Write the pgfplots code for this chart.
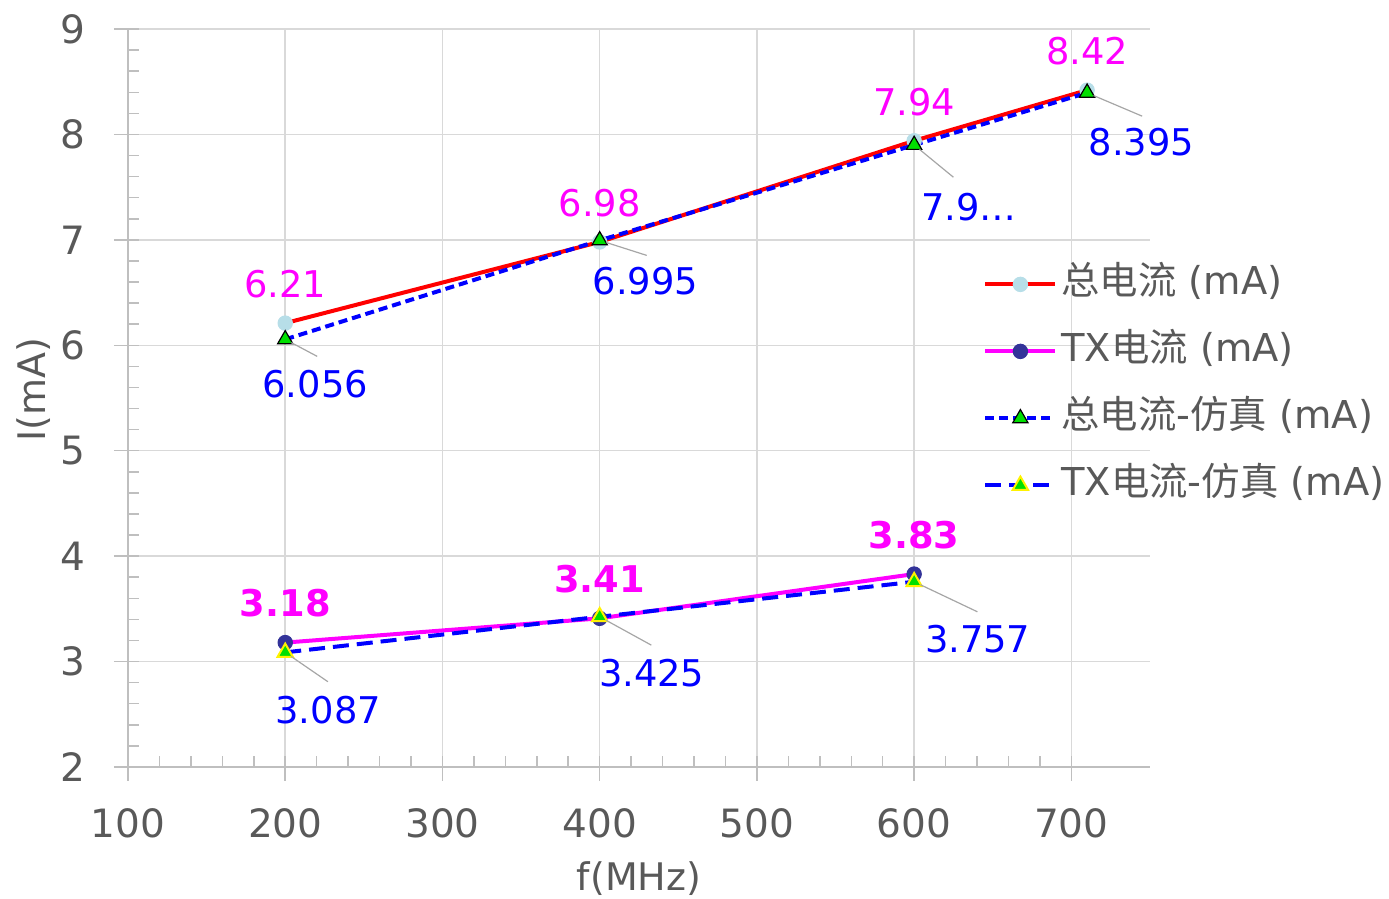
\documentclass[border=0pt]{standalone}
\usepackage{fontspec}
\setmainfont{DejaVu Sans}
\newfontfamily\cjk{Noto Sans CJK SC}
\usepackage{pgfplots}
\usepackage{pgfplotstable}
\pgfplotsset{compat=1.18}
\definecolor{txtgray}{HTML}{595959}
\definecolor{axgray}{HTML}{BFBFBF}
\definecolor{gridgray}{HTML}{D9D9D9}
\definecolor{lblue}{HTML}{B7DEE8}
\definecolor{navy}{HTML}{333399}
\definecolor{mag}{HTML}{FF00FF}
\definecolor{grn}{HTML}{00E000}
\definecolor{leadgray}{HTML}{A6A6A6}

% x y label, leader angle/length, label offset (pt)
\pgfplotstableread{
x y lab ang len lx ly
200 6.056 6.056 -28.0 14.6 15.0 22.5
400 6.995 6.995 -17.7 21.2 22.8 20.5
600 7.9 7.9… -39.4 21.9 27.3 31.3
710 8.395 8.395 -23.0 26.4 27.2 24.8
}\simtotal

\pgfplotstableread{
x y lab ang len lx ly
200 3.087 3.087 -34.5 22.4 21.5 29.0
400 3.425 3.425 -28.8 26.0 26.0 28.1
600 3.757 3.757 -25.4 31.5 31.8 28.9
}\simtx

\begin{document}
\begin{tikzpicture}
\begin{axis}[
  at={(0,0)}, anchor=south west,
  width=511pt, height=369pt, scale only axis,
  xmin=100, xmax=750, ymin=2, ymax=9,
  xtick={100,200,...,700}, ytick={2,3,...,9},
  minor x tick num=4, minor y tick num=4,
  axis x line*=bottom, axis y line*=left,
  axis line style={draw=axgray, line width=0.75pt, -},
  tick style={draw=axgray, line width=0.75pt},
  tick align=inside,
  major tick length=5.5pt, minor tick length=5.5pt,
  extra x ticks={100,200,...,700}, extra y ticks={2,3,...,9},
  extra x tick labels={}, extra y tick labels={},
  extra tick style={tick align=outside, major tick length=7pt, grid=none},
  grid=major, major grid style={draw=gridgray, line width=0.75pt},
  ticklabel style={font=\fontsize{19.5}{23}\selectfont, text=txtgray},
  /pgf/number format/assume math mode=true,
  xticklabel style={anchor=north, inner sep=0pt, yshift=-20.5pt},
  yticklabel style={anchor=east, inner sep=0pt, xshift=-21pt},
  xlabel={f(MHz)}, ylabel={I(mA)},
  xlabel style={at={(axis description cs:0.5,-0.15176)}, anchor=center, font=\fontsize{19}{23}\selectfont, text=txtgray},
  ylabel style={at={(axis description cs:-0.09247,0.511)}, anchor=center, font=\fontsize{19}{23}\selectfont, text=txtgray},
  legend cell align=left,
  legend style={at={(axis description cs:0.8366,0.6789)}, anchor=north west, draw=none, fill=none, inner sep=0pt,
    font=\fontsize{19.2}{22}\selectfont, text=txtgray, row sep=15.5pt, column sep=2pt,
    nodes={inner sep=0pt, text height=14pt, text depth=4pt}},
  legend image code/.code={\draw[mark repeat=2, mark phase=2, #1] plot coordinates {(0pt,0pt) (17.5pt,0pt) (35pt,0pt)};},
]
\addplot[red, line width=2pt, mark=*, mark size=3.6pt,
  mark options={fill=lblue, draw=lblue, line width=0.5pt, solid},
  nodes near coords, point meta=explicit symbolic,
  every node near coord/.style={anchor=center, yshift=19.5pt, font=\fontsize{18.4}{22}\selectfont, text=mag}]
  coordinates {(200,6.21)[6.21] (400,6.98)[6.98] (600,7.94)[7.94] (710,8.42)[8.42]};
\addlegendentry{{\cjk 总电流} (mA)}

\addplot[mag, line width=2pt, mark=*, mark size=3.6pt,
  mark options={fill=navy, draw=navy, line width=0.5pt, solid},
  nodes near coords, point meta=explicit symbolic,
  every node near coord/.style={anchor=center, yshift=19.5pt, font=\fontsize{18.4}{22}\selectfont\bfseries, text=mag}]
  coordinates {(200,3.18)[3.18] (400,3.41)[3.41] (600,3.83)[3.83]};
\addlegendentry{TX{\cjk 电流} (mA)}

\addplot[blue, line width=2pt, dash pattern=on 4.5pt off 2.5pt, mark=triangle*, mark size=4.4pt,
  mark options={fill=grn, draw=black, line width=0.6pt, solid},
  nodes near coords, point meta=explicit symbolic,
  visualization depends on={\thisrow{ang}\as\ang},
  visualization depends on={\thisrow{len}\as\len},
  visualization depends on={\thisrow{lx}\as\lx},
  visualization depends on={\thisrow{ly}\as\ly},
  every node near coord/.style={anchor=center, xshift=\lx pt, yshift=-\ly pt, font=\fontsize{18.4}{22}\selectfont, text=blue,
    append after command={(\tikzlastnode.center) ++(-\lx pt,\ly pt) ++(\ang:3.5pt) edge[draw=leadgray, line width=0.6pt, solid] +(\ang:\len pt)}}]
  table[x=x, y=y, meta=lab] {\simtotal};
\addlegendentry{{\cjk 总电流}-{\cjk 仿真} (mA)}

\addplot[blue, line width=2pt, dash pattern=on 8pt off 4pt, mark=triangle*, mark size=4.4pt,
  mark options={fill=grn, draw=yellow, line width=1pt, solid},
  nodes near coords, point meta=explicit symbolic,
  visualization depends on={\thisrow{ang}\as\ang},
  visualization depends on={\thisrow{len}\as\len},
  visualization depends on={\thisrow{lx}\as\lx},
  visualization depends on={\thisrow{ly}\as\ly},
  every node near coord/.style={anchor=center, xshift=\lx pt, yshift=-\ly pt, font=\fontsize{18.4}{22}\selectfont, text=blue,
    append after command={(\tikzlastnode.center) ++(-\lx pt,\ly pt) ++(\ang:3.5pt) edge[draw=leadgray, line width=0.6pt, solid] +(\ang:\len pt)}}]
  table[x=x, y=y, meta=lab] {\simtx};
\addlegendentry{TX{\cjk 电流}-{\cjk 仿真} (mA)}
\end{axis}
\pgfresetboundingbox
\path (-64pt,-66pt) rectangle (630.5pt,383.5pt);
\end{tikzpicture}
\end{document}
